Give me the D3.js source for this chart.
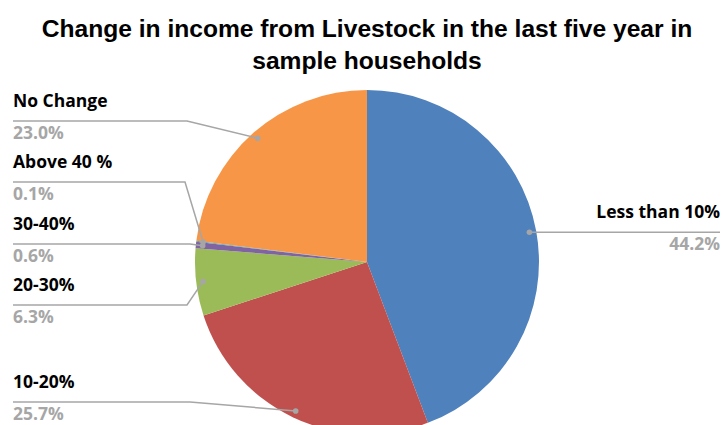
<!DOCTYPE html>
<html>
<head>
<meta charset="utf-8">
<script src="https://cdn.jsdelivr.net/npm/d3@7"></script>
<style>
  html, body { margin: 0; padding: 0; background: #fff; }
  svg { display: block; }
</style>
</head>
<body>
<svg id="chart" width="723" height="425"></svg>
<script>
// Income-change categories, listed clockwise from 12 o'clock
const categories = ["Less than 10%", "10-20%", "20-30%", "30-40%", "Above 40 %", "No Change"];
const shares = [44.2, 25.7, 6.3, 0.6, 0.1, 23.0];
const valueLabels = ["44.2%", "25.7%", "6.3%", "0.6%", "0.1%", "23.0%"];
const sliceColors = ["#4f81bd", "#c0504d", "#9bbb59", "#8064a2", "#4bacc6", "#f79646"];
const titleLines = ["Change in income from Livestock in the last five year in", "sample households"];

const W = 723, H = 425;
const cx = 367, cy = 262, R = 172;

const svg = d3.select("#chart");

// Title
svg.append("text")
  .attr("x", cx)
  .attr("text-anchor", "middle")
  .style("font-family", "'Liberation Sans', Arial, sans-serif")
  .style("font-weight", "bold")
  .style("font-size", "24.6px")
  .attr("fill", "#000")
  .selectAll("tspan")
  .data(titleLines)
  .join("tspan")
  .attr("x", cx)
  .attr("y", (d, i) => 37 + i * 32)
  .text(d => d);

const data = categories.map((c, i) => ({ name: c, value: shares[i], label: valueLabels[i], color: sliceColors[i] }));

const pie = d3.pie().value(d => d.value).sort(null);
const arcs = pie(data);
const arc = d3.arc().innerRadius(0).outerRadius(R);
const dotArc = d3.arc().innerRadius(R * 0.96).outerRadius(R * 0.96);

const g = svg.append("g").attr("transform", `translate(${cx},${cy})`);

g.selectAll("path.slice")
  .data(arcs)
  .join("path")
  .attr("class", "slice")
  .attr("d", arc)
  .attr("fill", d => d.data.color);

// Callout layout: side of the chart, y of the rule under the category name, elbow x
const callouts = {
  "Less than 10%": { side: "right", lineY: 233, elbowX: null },
  "10-20%":        { side: "left",  lineY: 402, elbowX: 190 },
  "20-30%":        { side: "left",  lineY: 305, elbowX: 187 },
  "30-40%":        { side: "left",  lineY: 244, elbowX: 190 },
  "Above 40 %":    { side: "left",  lineY: 182, elbowX: 185 },
  "No Change":     { side: "left",  lineY: 121, elbowX: 187 }
};

const leftX = 13, rightX = 720;
const lineColor = "#a6a6a6";
const labelFont = "'Open Sans', Lato, sans-serif";

const lab = svg.append("g");

arcs.forEach(a => {
  const c = callouts[a.data.name];
  const [dx, dy] = dotArc.centroid(a);
  const px = cx + dx, py = cy + dy;
  let pts;
  if (c.side === "right") {
    pts = [[px, py], [rightX, py]];
  } else {
    pts = [[px, py], [c.elbowX, c.lineY], [leftX, c.lineY]];
  }
  lab.append("path")
    .attr("d", d3.line()(pts))
    .attr("fill", "none")
    .attr("stroke", lineColor)
    .attr("stroke-width", 1.5);
  lab.append("circle")
    .attr("cx", px).attr("cy", py).attr("r", 2.8)
    .attr("fill", "#a6a6a6");

  const ly = c.side === "right" ? py : c.lineY;
  const tx = c.side === "right" ? rightX : leftX;
  const anchor = c.side === "right" ? "end" : "start";
  lab.append("text")
    .attr("x", tx).attr("y", ly - 14)
    .attr("text-anchor", anchor)
    .style("font-family", labelFont)
    .style("font-weight", "bold")
    .style("font-size", "17.5px")
    .attr("fill", "#000")
    .text(a.data.name);
  lab.append("text")
    .attr("x", tx).attr("y", ly + 18)
    .attr("text-anchor", anchor)
    .style("font-family", labelFont)
    .style("font-weight", "bold")
    .style("font-size", "17.5px")
    .attr("fill", "#a6a6a6")
    .text(a.data.label);
});
</script>
</body>
</html>
